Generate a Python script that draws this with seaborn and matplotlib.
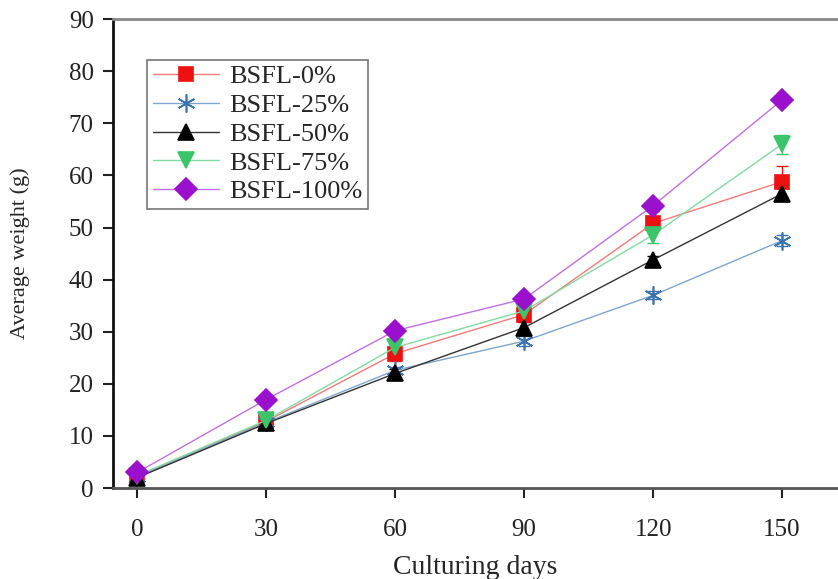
import numpy as np
import pandas as pd
import matplotlib
matplotlib.use("Agg")
import matplotlib.pyplot as plt
import seaborn as sns

days = [0, 30, 60, 90, 120, 150]
groups = ['BSFL-0%', 'BSFL-25%', 'BSFL-50%', 'BSFL-75%', 'BSFL-100%']

w_0 = [2.3, 12.8, 25.8, 33.3, 50.8, 58.8]
w_25 = [2.2, 12.6, 22.6, 28.2, 37.0, 47.5]
w_50 = [2.0, 12.4, 22.0, 30.8, 43.8, 56.5]
w_75 = [2.4, 13.0, 27.0, 34.0, 48.6, 66.0]
w_100 = [3.0, 17.0, 30.2, 36.3, 54.2, 74.5]

sd_0 = [0.3, 0.6, 1.5, 1.0, 1.2, 3.0]
sd_25 = [0.2, 0.5, 0.6, 1.0, 0.8, 1.0]
sd_50 = [0.2, 0.5, 0.8, 1.0, 0.8, 1.0]
sd_75 = [0.2, 0.6, 1.0, 1.0, 1.5, 1.8]
sd_100 = [0.2, 0.5, 0.6, 0.6, 1.0, 0.8]

values = [w_0, w_25, w_50, w_75, w_100]
sds = [sd_0, sd_25, sd_50, sd_75, sd_100]

colors = ['#ee1111', '#3d74ad', '#000000', '#3cc46a', '#9a10cc']
line_colors = ['#f07a7a', '#7fa6cc', '#333333', '#84d9a0', '#c070e0']
markers = ['s', (6, 2, 0), '^', 'v', 'D']
msizes = [10, 13, 11, 11, 11]

df = pd.DataFrame({
    'day': np.tile(days, len(groups)),
    'weight': np.concatenate(values),
    'sd': np.concatenate(sds),
    'group': np.repeat(groups, len(days)),
})

sns.set_style('ticks')
plt.rcParams['font.family'] = ['Liberation Serif', 'DejaVu Serif']

fig = plt.figure(figsize=(8.38, 5.79), dpi=100)
ax = fig.add_axes([0.135, 0.157, 0.865, 0.81])

for g, c, lc, m, ms in zip(groups, colors, line_colors, markers, msizes):
    sub = df[df.group == g]
    ax.errorbar(sub.day, sub.weight, yerr=sub.sd, fmt='none', ecolor=c,
                elinewidth=1, capsize=4, zorder=2)
    sns.lineplot(data=sub, x='day', y='weight', color=lc, marker=m,
                 markersize=ms, markerfacecolor=c, markeredgecolor=c,
                 markeredgewidth=1.2, linewidth=1.0, label=g, ax=ax, zorder=3)

ax.set_xlim(-5.6, 163)
ax.set_ylim(0, 90)
ax.set_xticks(days)
ax.set_yticks(range(0, 91, 10))
ax.tick_params(labelsize=18, direction='out', length=7, width=1.5,
               colors='#222222')
ax.tick_params(axis='x', pad=15)
ax.tick_params(axis='y', pad=7)
ax.set_xlabel('Culturing days', fontsize=20, labelpad=10)
ax.set_ylabel('Average weight (g)', fontsize=16, labelpad=28)
ax.spines['left'].set_linewidth(2)
ax.spines['left'].set_color('#111111')
ax.spines['bottom'].set_linewidth(2)
ax.spines['bottom'].set_color('#555555')
ax.spines['top'].set_color('#888888')
ax.spines['top'].set_linewidth(2)
ax.spines['right'].set_visible(False)

leg = ax.legend(loc='upper left', bbox_to_anchor=(0.04, 0.925), fontsize=19,
                frameon=True, fancybox=False, edgecolor='#555555',
                handlelength=2.5, borderpad=0.2, labelspacing=0.2,
                handletextpad=0.4, borderaxespad=0.2)
leg.get_frame().set_linewidth(1.2)

fig.savefig('out.png', dpi=100)
